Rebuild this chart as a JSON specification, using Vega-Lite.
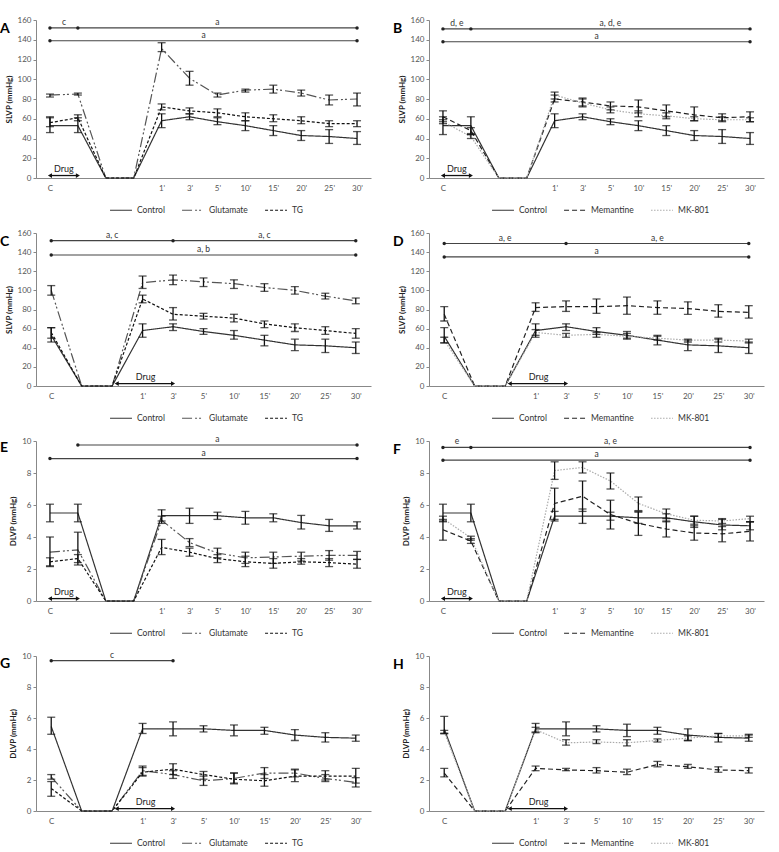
{
"$schema":"https://vega.github.io/schema/vega-lite/v6.json",
"padding":{"left":0,"top":16,"right":5,"bottom":0},
"background":"white",
"config":{"view":{"stroke":null},"font":"Lato",
"axis":{"labelFont":"Lato","labelFontSize":8,"labelColor":"#555","labelOverlap":false,"labelFlush":false,"labelBound":false,"titleFont":"Lato","titleFontSize":8,"titleFontWeight":"bold","titleColor":"#222","domainColor":"#888","tickColor":"#888","tickSize":3,"grid":false},
"legend":{"labelFont":"Lato","labelFontSize":8.5,"labelColor":"#333"},
"title":{"font":"Lato"},"text":{"font":"Lato"}},
"datasets":{
"d":[
{"p":"A","s":"Control","i":1,"v":53,"lo":46,"hi":61},{"p":"A","s":"Control","i":2,"v":53,"lo":46,"hi":61},{"p":"A","s":"Control","i":3,"v":0},{"p":"A","s":"Control","i":4,"v":0},{"p":"A","s":"Control","i":5,"v":58,"lo":51,"hi":65},{"p":"A","s":"Control","i":6,"v":62,"lo":59,"hi":65},{"p":"A","s":"Control","i":7,"v":57,"lo":54,"hi":61},{"p":"A","s":"Control","i":8,"v":53,"lo":48,"hi":58},{"p":"A","s":"Control","i":9,"v":48,"lo":43,"hi":53},{"p":"A","s":"Control","i":10,"v":43,"lo":38,"hi":48},{"p":"A","s":"Control","i":11,"v":42,"lo":35,"hi":49},{"p":"A","s":"Control","i":12,"v":40,"lo":34,"hi":47},
{"p":"A","s":"Glutamate","i":1,"v":84,"lo":82,"hi":85},{"p":"A","s":"Glutamate","i":2,"v":85,"lo":84,"hi":86},{"p":"A","s":"Glutamate","i":3,"v":0},{"p":"A","s":"Glutamate","i":4,"v":0},{"p":"A","s":"Glutamate","i":5,"v":131,"lo":128,"hi":137},{"p":"A","s":"Glutamate","i":6,"v":101,"lo":94,"hi":108},{"p":"A","s":"Glutamate","i":7,"v":84,"lo":82,"hi":86},{"p":"A","s":"Glutamate","i":8,"v":89,"lo":87,"hi":90},{"p":"A","s":"Glutamate","i":9,"v":90,"lo":86,"hi":94},{"p":"A","s":"Glutamate","i":10,"v":86,"lo":83,"hi":89},{"p":"A","s":"Glutamate","i":11,"v":79,"lo":74,"hi":84},{"p":"A","s":"Glutamate","i":12,"v":80,"lo":73,"hi":86},
{"p":"A","s":"TG","i":1,"v":56,"lo":52,"hi":62},{"p":"A","s":"TG","i":2,"v":61,"lo":58,"hi":64},{"p":"A","s":"TG","i":3,"v":0},{"p":"A","s":"TG","i":4,"v":0},{"p":"A","s":"TG","i":5,"v":72,"lo":69,"hi":75},{"p":"A","s":"TG","i":6,"v":68,"lo":65,"hi":71},{"p":"A","s":"TG","i":7,"v":66,"lo":62,"hi":70},{"p":"A","s":"TG","i":8,"v":62,"lo":58,"hi":66},{"p":"A","s":"TG","i":9,"v":60,"lo":57,"hi":64},{"p":"A","s":"TG","i":10,"v":58,"lo":55,"hi":62},{"p":"A","s":"TG","i":11,"v":55,"lo":52,"hi":58},{"p":"A","s":"TG","i":12,"v":55,"lo":52,"hi":58},
{"p":"B","s":"Control","i":1,"v":53,"lo":44,"hi":62},{"p":"B","s":"Control","i":2,"v":53,"lo":44,"hi":62},{"p":"B","s":"Control","i":3,"v":0},{"p":"B","s":"Control","i":4,"v":0},{"p":"B","s":"Control","i":5,"v":58,"lo":51,"hi":65},{"p":"B","s":"Control","i":6,"v":62,"lo":59,"hi":65},{"p":"B","s":"Control","i":7,"v":57,"lo":54,"hi":60},{"p":"B","s":"Control","i":8,"v":53,"lo":48,"hi":58},{"p":"B","s":"Control","i":9,"v":48,"lo":43,"hi":53},{"p":"B","s":"Control","i":10,"v":43,"lo":38,"hi":48},{"p":"B","s":"Control","i":11,"v":42,"lo":35,"hi":49},{"p":"B","s":"Control","i":12,"v":40,"lo":34,"hi":46},
{"p":"B","s":"Memantine","i":1,"v":62,"lo":57,"hi":68},{"p":"B","s":"Memantine","i":2,"v":48,"lo":45,"hi":51},{"p":"B","s":"Memantine","i":3,"v":0},{"p":"B","s":"Memantine","i":4,"v":0},{"p":"B","s":"Memantine","i":5,"v":80,"lo":77,"hi":84},{"p":"B","s":"Memantine","i":6,"v":77,"lo":73,"hi":81},{"p":"B","s":"Memantine","i":7,"v":73,"lo":69,"hi":77},{"p":"B","s":"Memantine","i":8,"v":72,"lo":66,"hi":79},{"p":"B","s":"Memantine","i":9,"v":68,"lo":62,"hi":74},{"p":"B","s":"Memantine","i":10,"v":64,"lo":58,"hi":72},{"p":"B","s":"Memantine","i":11,"v":61,"lo":58,"hi":65},{"p":"B","s":"Memantine","i":12,"v":62,"lo":57,"hi":67},
{"p":"B","s":"MK-801","i":1,"v":57,"lo":55,"hi":59},{"p":"B","s":"MK-801","i":2,"v":42,"lo":40,"hi":44},{"p":"B","s":"MK-801","i":3,"v":0},{"p":"B","s":"MK-801","i":4,"v":0},{"p":"B","s":"MK-801","i":5,"v":84,"lo":80,"hi":87},{"p":"B","s":"MK-801","i":6,"v":76,"lo":72,"hi":80},{"p":"B","s":"MK-801","i":7,"v":69,"lo":66,"hi":72},{"p":"B","s":"MK-801","i":8,"v":65,"lo":62,"hi":68},{"p":"B","s":"MK-801","i":9,"v":63,"lo":60,"hi":66},{"p":"B","s":"MK-801","i":10,"v":60,"lo":58,"hi":62},{"p":"B","s":"MK-801","i":11,"v":59,"lo":57,"hi":62},{"p":"B","s":"MK-801","i":12,"v":59,"lo":57,"hi":61},
{"p":"C","s":"Control","i":1,"v":53,"lo":46,"hi":61},{"p":"C","s":"Control","i":2,"v":0},{"p":"C","s":"Control","i":3,"v":0},{"p":"C","s":"Control","i":4,"v":58,"lo":51,"hi":65},{"p":"C","s":"Control","i":5,"v":62,"lo":58,"hi":65},{"p":"C","s":"Control","i":6,"v":57,"lo":54,"hi":60},{"p":"C","s":"Control","i":7,"v":53,"lo":49,"hi":58},{"p":"C","s":"Control","i":8,"v":48,"lo":42,"hi":53},{"p":"C","s":"Control","i":9,"v":43,"lo":37,"hi":49},{"p":"C","s":"Control","i":10,"v":42,"lo":35,"hi":49},{"p":"C","s":"Control","i":11,"v":40,"lo":34,"hi":46},
{"p":"C","s":"Glutamate","i":1,"v":100,"lo":95,"hi":105},{"p":"C","s":"Glutamate","i":2,"v":0},{"p":"C","s":"Glutamate","i":3,"v":0},{"p":"C","s":"Glutamate","i":4,"v":108,"lo":102,"hi":115},{"p":"C","s":"Glutamate","i":5,"v":111,"lo":106,"hi":116},{"p":"C","s":"Glutamate","i":6,"v":109,"lo":104,"hi":113},{"p":"C","s":"Glutamate","i":7,"v":107,"lo":102,"hi":111},{"p":"C","s":"Glutamate","i":8,"v":103,"lo":99,"hi":107},{"p":"C","s":"Glutamate","i":9,"v":100,"lo":96,"hi":104},{"p":"C","s":"Glutamate","i":10,"v":94,"lo":91,"hi":97},{"p":"C","s":"Glutamate","i":11,"v":89,"lo":86,"hi":92},
{"p":"C","s":"TG","i":1,"v":56,"lo":50,"hi":61},{"p":"C","s":"TG","i":2,"v":0},{"p":"C","s":"TG","i":3,"v":0},{"p":"C","s":"TG","i":4,"v":91,"lo":87,"hi":95},{"p":"C","s":"TG","i":5,"v":75,"lo":69,"hi":82},{"p":"C","s":"TG","i":6,"v":73,"lo":70,"hi":76},{"p":"C","s":"TG","i":7,"v":71,"lo":67,"hi":75},{"p":"C","s":"TG","i":8,"v":65,"lo":61,"hi":68},{"p":"C","s":"TG","i":9,"v":61,"lo":57,"hi":65},{"p":"C","s":"TG","i":10,"v":58,"lo":54,"hi":62},{"p":"C","s":"TG","i":11,"v":55,"lo":50,"hi":60},
{"p":"D","s":"Control","i":1,"v":52,"lo":45,"hi":61},{"p":"D","s":"Control","i":2,"v":0},{"p":"D","s":"Control","i":3,"v":0},{"p":"D","s":"Control","i":4,"v":58,"lo":51,"hi":65},{"p":"D","s":"Control","i":5,"v":62,"lo":58,"hi":65},{"p":"D","s":"Control","i":6,"v":57,"lo":54,"hi":61},{"p":"D","s":"Control","i":7,"v":53,"lo":49,"hi":57},{"p":"D","s":"Control","i":8,"v":48,"lo":43,"hi":53},{"p":"D","s":"Control","i":9,"v":43,"lo":37,"hi":48},{"p":"D","s":"Control","i":10,"v":42,"lo":35,"hi":49},{"p":"D","s":"Control","i":11,"v":40,"lo":34,"hi":46},
{"p":"D","s":"Memantine","i":1,"v":75,"lo":68,"hi":83},{"p":"D","s":"Memantine","i":2,"v":0},{"p":"D","s":"Memantine","i":3,"v":0},{"p":"D","s":"Memantine","i":4,"v":82,"lo":78,"hi":87},{"p":"D","s":"Memantine","i":5,"v":83,"lo":78,"hi":89},{"p":"D","s":"Memantine","i":6,"v":83,"lo":76,"hi":91},{"p":"D","s":"Memantine","i":7,"v":84,"lo":75,"hi":93},{"p":"D","s":"Memantine","i":8,"v":82,"lo":75,"hi":89},{"p":"D","s":"Memantine","i":9,"v":81,"lo":75,"hi":88},{"p":"D","s":"Memantine","i":10,"v":78,"lo":72,"hi":85},{"p":"D","s":"Memantine","i":11,"v":77,"lo":71,"hi":84},
{"p":"D","s":"MK-801","i":1,"v":48,"lo":45,"hi":51},{"p":"D","s":"MK-801","i":2,"v":0},{"p":"D","s":"MK-801","i":3,"v":0},{"p":"D","s":"MK-801","i":4,"v":56,"lo":53,"hi":59},{"p":"D","s":"MK-801","i":5,"v":53,"lo":51,"hi":55},{"p":"D","s":"MK-801","i":6,"v":54,"lo":51,"hi":56},{"p":"D","s":"MK-801","i":7,"v":52,"lo":50,"hi":55},{"p":"D","s":"MK-801","i":8,"v":50,"lo":48,"hi":52},{"p":"D","s":"MK-801","i":9,"v":48,"lo":46,"hi":49},{"p":"D","s":"MK-801","i":10,"v":48,"lo":46,"hi":50},{"p":"D","s":"MK-801","i":11,"v":47,"lo":45,"hi":49},
{"p":"E","s":"Control","i":1,"v":5.5,"lo":4.95,"hi":6.05},{"p":"E","s":"Control","i":2,"v":5.5,"lo":4.95,"hi":6.05},{"p":"E","s":"Control","i":3,"v":0},{"p":"E","s":"Control","i":4,"v":0},{"p":"E","s":"Control","i":5,"v":5.33,"lo":5.0,"hi":5.7},{"p":"E","s":"Control","i":6,"v":5.33,"lo":4.85,"hi":5.8},{"p":"E","s":"Control","i":7,"v":5.33,"lo":5.1,"hi":5.55},{"p":"E","s":"Control","i":8,"v":5.2,"lo":4.8,"hi":5.6},{"p":"E","s":"Control","i":9,"v":5.2,"lo":4.95,"hi":5.45},{"p":"E","s":"Control","i":10,"v":4.9,"lo":4.5,"hi":5.35},{"p":"E","s":"Control","i":11,"v":4.7,"lo":4.35,"hi":5.1},{"p":"E","s":"Control","i":12,"v":4.7,"lo":4.5,"hi":4.95},
{"p":"E","s":"Glutamate","i":1,"v":3.05,"lo":2.15,"hi":4.0},{"p":"E","s":"Glutamate","i":2,"v":3.2,"lo":2.25,"hi":4.3},{"p":"E","s":"Glutamate","i":3,"v":0},{"p":"E","s":"Glutamate","i":4,"v":0},{"p":"E","s":"Glutamate","i":5,"v":5.05,"lo":4.85,"hi":5.3},{"p":"E","s":"Glutamate","i":6,"v":3.65,"lo":3.4,"hi":3.9},{"p":"E","s":"Glutamate","i":7,"v":3.0,"lo":2.7,"hi":3.3},{"p":"E","s":"Glutamate","i":8,"v":2.7,"lo":2.35,"hi":3.05},{"p":"E","s":"Glutamate","i":9,"v":2.75,"lo":2.35,"hi":3.05},{"p":"E","s":"Glutamate","i":10,"v":2.8,"lo":2.5,"hi":3.05},{"p":"E","s":"Glutamate","i":11,"v":2.85,"lo":2.55,"hi":3.15},{"p":"E","s":"Glutamate","i":12,"v":2.85,"lo":2.6,"hi":3.1},
{"p":"E","s":"TG","i":1,"v":2.45,"lo":2.2,"hi":2.7},{"p":"E","s":"TG","i":2,"v":2.65,"lo":2.4,"hi":2.9},{"p":"E","s":"TG","i":3,"v":0},{"p":"E","s":"TG","i":4,"v":0},{"p":"E","s":"TG","i":5,"v":3.35,"lo":2.9,"hi":3.85},{"p":"E","s":"TG","i":6,"v":3.05,"lo":2.8,"hi":3.3},{"p":"E","s":"TG","i":7,"v":2.65,"lo":2.4,"hi":2.9},{"p":"E","s":"TG","i":8,"v":2.45,"lo":2.15,"hi":2.8},{"p":"E","s":"TG","i":9,"v":2.35,"lo":2.05,"hi":2.65},{"p":"E","s":"TG","i":10,"v":2.45,"lo":2.3,"hi":2.65},{"p":"E","s":"TG","i":11,"v":2.4,"lo":2.15,"hi":2.65},{"p":"E","s":"TG","i":12,"v":2.3,"lo":2.05,"hi":2.6},
{"p":"F","s":"Control","i":1,"v":5.5,"lo":4.95,"hi":6.05},{"p":"F","s":"Control","i":2,"v":5.5,"lo":4.95,"hi":6.05},{"p":"F","s":"Control","i":3,"v":0},{"p":"F","s":"Control","i":4,"v":0},{"p":"F","s":"Control","i":5,"v":5.3,"lo":5.0,"hi":5.6},{"p":"F","s":"Control","i":6,"v":5.3,"lo":4.85,"hi":5.75},{"p":"F","s":"Control","i":7,"v":5.3,"lo":5.05,"hi":5.55},{"p":"F","s":"Control","i":8,"v":5.2,"lo":4.85,"hi":5.55},{"p":"F","s":"Control","i":9,"v":5.2,"lo":4.95,"hi":5.45},{"p":"F","s":"Control","i":10,"v":4.95,"lo":4.6,"hi":5.3},{"p":"F","s":"Control","i":11,"v":4.75,"lo":4.45,"hi":5.1},{"p":"F","s":"Control","i":12,"v":4.7,"lo":4.45,"hi":4.95},
{"p":"F","s":"Memantine","i":1,"v":4.45,"lo":3.8,"hi":5.1},{"p":"F","s":"Memantine","i":2,"v":3.75,"lo":3.6,"hi":3.9},{"p":"F","s":"Memantine","i":3,"v":0},{"p":"F","s":"Memantine","i":4,"v":0},{"p":"F","s":"Memantine","i":5,"v":6.1,"lo":5.1,"hi":7.05},{"p":"F","s":"Memantine","i":6,"v":6.55,"lo":5.6,"hi":7.5},{"p":"F","s":"Memantine","i":7,"v":5.4,"lo":4.5,"hi":6.3},{"p":"F","s":"Memantine","i":8,"v":4.85,"lo":4.1,"hi":5.6},{"p":"F","s":"Memantine","i":9,"v":4.5,"lo":4.0,"hi":5.0},{"p":"F","s":"Memantine","i":10,"v":4.25,"lo":3.8,"hi":4.7},{"p":"F","s":"Memantine","i":11,"v":4.2,"lo":3.7,"hi":4.65},{"p":"F","s":"Memantine","i":12,"v":4.35,"lo":3.75,"hi":4.95},
{"p":"F","s":"MK-801","i":1,"v":5.15,"lo":5.0,"hi":5.3},{"p":"F","s":"MK-801","i":2,"v":3.95,"lo":3.8,"hi":4.05},{"p":"F","s":"MK-801","i":3,"v":0},{"p":"F","s":"MK-801","i":4,"v":0},{"p":"F","s":"MK-801","i":5,"v":8.15,"lo":7.6,"hi":8.7},{"p":"F","s":"MK-801","i":6,"v":8.35,"lo":8.0,"hi":8.7},{"p":"F","s":"MK-801","i":7,"v":7.5,"lo":7.0,"hi":8.0},{"p":"F","s":"MK-801","i":8,"v":6.1,"lo":5.65,"hi":6.5},{"p":"F","s":"MK-801","i":9,"v":5.45,"lo":5.15,"hi":5.75},{"p":"F","s":"MK-801","i":10,"v":5.05,"lo":4.8,"hi":5.3},{"p":"F","s":"MK-801","i":11,"v":5.0,"lo":4.85,"hi":5.15},{"p":"F","s":"MK-801","i":12,"v":5.15,"lo":4.95,"hi":5.3},
{"p":"G","s":"Control","i":1,"v":5.45,"lo":4.95,"hi":6.05},{"p":"G","s":"Control","i":2,"v":0},{"p":"G","s":"Control","i":3,"v":0},{"p":"G","s":"Control","i":4,"v":5.3,"lo":5.0,"hi":5.65},{"p":"G","s":"Control","i":5,"v":5.3,"lo":4.85,"hi":5.75},{"p":"G","s":"Control","i":6,"v":5.3,"lo":5.1,"hi":5.5},{"p":"G","s":"Control","i":7,"v":5.2,"lo":4.85,"hi":5.55},{"p":"G","s":"Control","i":8,"v":5.2,"lo":4.95,"hi":5.4},{"p":"G","s":"Control","i":9,"v":4.9,"lo":4.55,"hi":5.25},{"p":"G","s":"Control","i":10,"v":4.75,"lo":4.45,"hi":5.05},{"p":"G","s":"Control","i":11,"v":4.7,"lo":4.5,"hi":4.9},
{"p":"G","s":"Glutamate","i":1,"v":2.2,"lo":2.05,"hi":2.35},{"p":"G","s":"Glutamate","i":2,"v":0},{"p":"G","s":"Glutamate","i":3,"v":0},{"p":"G","s":"Glutamate","i":4,"v":2.6,"lo":2.3,"hi":2.9},{"p":"G","s":"Glutamate","i":5,"v":2.35,"lo":2.1,"hi":2.6},{"p":"G","s":"Glutamate","i":6,"v":1.95,"lo":1.65,"hi":2.25},{"p":"G","s":"Glutamate","i":7,"v":2.1,"lo":1.8,"hi":2.45},{"p":"G","s":"Glutamate","i":8,"v":2.45,"lo":2.1,"hi":2.8},{"p":"G","s":"Glutamate","i":9,"v":2.45,"lo":2.2,"hi":2.7},{"p":"G","s":"Glutamate","i":10,"v":2.1,"lo":1.9,"hi":2.35},{"p":"G","s":"Glutamate","i":11,"v":1.85,"lo":1.55,"hi":2.15},
{"p":"G","s":"TG","i":1,"v":1.45,"lo":0.95,"hi":1.9},{"p":"G","s":"TG","i":2,"v":0},{"p":"G","s":"TG","i":3,"v":0},{"p":"G","s":"TG","i":4,"v":2.5,"lo":2.25,"hi":2.8},{"p":"G","s":"TG","i":5,"v":2.7,"lo":2.35,"hi":3.05},{"p":"G","s":"TG","i":6,"v":2.35,"lo":2.05,"hi":2.55},{"p":"G","s":"TG","i":7,"v":2.05,"lo":1.75,"hi":2.45},{"p":"G","s":"TG","i":8,"v":1.95,"lo":1.6,"hi":2.35},{"p":"G","s":"TG","i":9,"v":2.25,"lo":1.9,"hi":2.65},{"p":"G","s":"TG","i":10,"v":2.25,"lo":2.0,"hi":2.6},{"p":"G","s":"TG","i":11,"v":2.25,"lo":1.8,"hi":2.75},
{"p":"H","s":"Control","i":1,"v":5.3,"lo":5.0,"hi":6.1},{"p":"H","s":"Control","i":2,"v":0},{"p":"H","s":"Control","i":3,"v":0},{"p":"H","s":"Control","i":4,"v":5.3,"lo":5.05,"hi":5.65},{"p":"H","s":"Control","i":5,"v":5.3,"lo":4.85,"hi":5.75},{"p":"H","s":"Control","i":6,"v":5.3,"lo":5.1,"hi":5.5},{"p":"H","s":"Control","i":7,"v":5.2,"lo":4.8,"hi":5.6},{"p":"H","s":"Control","i":8,"v":5.2,"lo":4.95,"hi":5.4},{"p":"H","s":"Control","i":9,"v":4.9,"lo":4.55,"hi":5.3},{"p":"H","s":"Control","i":10,"v":4.75,"lo":4.45,"hi":5.0},{"p":"H","s":"Control","i":11,"v":4.7,"lo":4.5,"hi":4.9},
{"p":"H","s":"Memantine","i":1,"v":2.45,"lo":2.2,"hi":2.75},{"p":"H","s":"Memantine","i":2,"v":0},{"p":"H","s":"Memantine","i":3,"v":0},{"p":"H","s":"Memantine","i":4,"v":2.75,"lo":2.6,"hi":2.9},{"p":"H","s":"Memantine","i":5,"v":2.65,"lo":2.6,"hi":2.75},{"p":"H","s":"Memantine","i":6,"v":2.6,"lo":2.45,"hi":2.8},{"p":"H","s":"Memantine","i":7,"v":2.5,"lo":2.35,"hi":2.7},{"p":"H","s":"Memantine","i":8,"v":3.0,"lo":2.85,"hi":3.2},{"p":"H","s":"Memantine","i":9,"v":2.85,"lo":2.75,"hi":3.0},{"p":"H","s":"Memantine","i":10,"v":2.65,"lo":2.5,"hi":2.85},{"p":"H","s":"Memantine","i":11,"v":2.6,"lo":2.45,"hi":2.8},
{"p":"H","s":"MK-801","i":1,"v":5.1,"lo":5.0,"hi":5.2},{"p":"H","s":"MK-801","i":2,"v":0},{"p":"H","s":"MK-801","i":3,"v":0},{"p":"H","s":"MK-801","i":4,"v":5.25,"lo":5.1,"hi":5.4},{"p":"H","s":"MK-801","i":5,"v":4.4,"lo":4.25,"hi":4.6},{"p":"H","s":"MK-801","i":6,"v":4.45,"lo":4.35,"hi":4.6},{"p":"H","s":"MK-801","i":7,"v":4.4,"lo":4.2,"hi":4.6},{"p":"H","s":"MK-801","i":8,"v":4.55,"lo":4.45,"hi":4.65},{"p":"H","s":"MK-801","i":9,"v":4.7,"lo":4.55,"hi":4.85},{"p":"H","s":"MK-801","i":10,"v":4.85,"lo":4.75,"hi":5.0},{"p":"H","s":"MK-801","i":11,"v":4.85,"lo":4.75,"hi":4.95}
],
"ann":[{"p":"A","y":152,"a":1,"b":12},{"p":"A","y":139,"a":1,"b":12},{"p":"B","y":151,"a":1,"b":12},{"p":"B","y":138,"a":1,"b":12},{"p":"C","y":152,"a":1,"b":11},{"p":"C","y":137,"a":1,"b":11},{"p":"D","y":149,"a":1,"b":11},{"p":"D","y":135,"a":1,"b":11},{"p":"E","y":9.75,"a":2,"b":12},{"p":"E","y":8.9,"a":1,"b":12},{"p":"F","y":9.6,"a":1,"b":12},{"p":"F","y":8.8,"a":1,"b":12},{"p":"G","y":9.7,"a":1,"b":5}],
"dots":[{"p":"A","x":1,"y":152},{"p":"A","x":2,"y":152},{"p":"A","x":12,"y":152},{"p":"A","x":1,"y":139},{"p":"A","x":12,"y":139},
{"p":"B","x":1,"y":151},{"p":"B","x":2,"y":151},{"p":"B","x":12,"y":151},{"p":"B","x":1,"y":138},{"p":"B","x":12,"y":138},
{"p":"C","x":1,"y":152},{"p":"C","x":5,"y":152},{"p":"C","x":11,"y":152},{"p":"C","x":1,"y":137},{"p":"C","x":11,"y":137},
{"p":"D","x":1,"y":149},{"p":"D","x":5,"y":149},{"p":"D","x":11,"y":149},{"p":"D","x":1,"y":135},{"p":"D","x":11,"y":135},
{"p":"E","x":2,"y":9.75},{"p":"E","x":12,"y":9.75},{"p":"E","x":1,"y":8.9},{"p":"E","x":12,"y":8.9},
{"p":"F","x":1,"y":9.6},{"p":"F","x":2,"y":9.6},{"p":"F","x":12,"y":9.6},{"p":"F","x":1,"y":8.8},{"p":"F","x":12,"y":8.8},
{"p":"G","x":1,"y":9.7},{"p":"G","x":5,"y":9.7}],
"lab":[{"p":"A","x":1.5,"y":152,"t":"c"},{"p":"A","x":7,"y":152,"t":"a"},{"p":"A","x":6.5,"y":139,"t":"a"},
{"p":"B","x":1.5,"y":151,"t":"d, e"},{"p":"B","x":7,"y":151,"t":"a, d, e"},{"p":"B","x":6.5,"y":138,"t":"a"},
{"p":"C","x":3,"y":152,"t":"a, c"},{"p":"C","x":8,"y":152,"t":"a, c"},{"p":"C","x":6,"y":137,"t":"a, b"},
{"p":"D","x":3,"y":149,"t":"a, e"},{"p":"D","x":8,"y":149,"t":"a, e"},{"p":"D","x":6,"y":135,"t":"a"},
{"p":"E","x":7,"y":9.75,"t":"a"},{"p":"E","x":6.5,"y":8.9,"t":"a"},
{"p":"F","x":1.5,"y":9.6,"t":"e"},{"p":"F","x":7,"y":9.6,"t":"a, e"},{"p":"F","x":6.5,"y":8.8,"t":"a"},
{"p":"G","x":3,"y":9.7,"t":"c"}],
"drug":[{"p":"A","a":1,"b":2,"m":1.5,"y":2.5},{"p":"B","a":1,"b":2,"m":1.5,"y":2.5},{"p":"C","a":3.15,"b":5,"m":4.1,"y":2.5},{"p":"D","a":3.15,"b":5,"m":4.1,"y":2.5},{"p":"E","a":1,"b":2,"m":1.5,"y":0.15},{"p":"F","a":1,"b":2,"m":1.5,"y":0.15},{"p":"G","a":3.15,"b":5,"m":4.1,"y":0.15},{"p":"H","a":3.15,"b":5,"m":4.1,"y":0.15}]
},
"columns":2,
"bounds":"flush",
"spacing":{"row":55,"column":58},
"resolve":{"scale":{"x":"independent","y":"independent","color":"independent","strokeDash":"independent","shape":"independent"},"legend":{"color":"independent","strokeDash":"independent"},"axis":{"x":"independent","y":"independent"}},
"concat":[
{"width":335,"height":158,"title":{"text":"A","anchor":"start","frame":"group","fontSize":14,"fontWeight":"bold","baseline":"alphabetic","dx":-36,"dy":35},
"layer":[
{"data":{"name":"d"},"transform":[{"filter":"datum.p=='A'"}],"mark":{"type":"line","strokeWidth":1.2},
"encoding":{"x":{"field":"i","type":"quantitative","title":null,"scale":{"domain":[0.5,12.5],"nice":false,"zero":false},"axis":{"values":[1,2,3,4,5,6,7,8,9,10,11,12],"tickCount":40,"labelExpr":"[\"C\",\"\",\"\",\"\",\"1'\",\"3'\",\"5'\",\"10'\",\"15'\",\"20'\",\"25'\",\"30'\"][datum.value-1]","ticks":false,"labelPadding":6}},
"y":{"field":"v","type":"quantitative","title":"SLVP (mmHg)","scale":{"domain":[0,160],"nice":false},"axis":{"values":[0,20,40,60,80,100,120,140,160],"tickCount":40,"format":"d"}},
"color":{"field":"s","type":"nominal","scale":{"domain":["Control","Glutamate","TG"],"range":["#333333","#555555","#111111"]},"legend":{"orient":"none","legendX":73,"legendY":178,"direction":"horizontal","title":null,"symbolType":"stroke","symbolSize":480,"symbolStrokeWidth":1.2,"columnPadding":14}},
"strokeDash":{"field":"s","type":"nominal","scale":{"domain":["Control","Glutamate","TG"],"range":[[1,0],[10,3,2,2,2,3],[3,2]]},"legend":{"orient":"none","legendX":73,"legendY":178,"direction":"horizontal","title":null,"symbolType":"stroke","symbolSize":480,"symbolStrokeWidth":1.2,"columnPadding":14}}}},
{"data":{"name":"d"},"transform":[{"filter":"datum.p=='A' && isValid(datum.lo)"}],"mark":{"type":"rule","color":"#111","strokeWidth":1.3},"encoding":{"x":{"field":"i","type":"quantitative","title":null},"y":{"field":"lo","type":"quantitative","title":"SLVP (mmHg)"},"y2":{"field":"hi"}}},
{"data":{"name":"d"},"transform":[{"filter":"datum.p=='A' && isValid(datum.lo)"},{"fold":["lo","hi"],"as":["k","e"]}],"mark":{"type":"tick","orient":"horizontal","color":"#111","size":8,"thickness":1.3},"encoding":{"x":{"field":"i","type":"quantitative","title":null},"y":{"field":"e","type":"quantitative","title":"SLVP (mmHg)"}}},
{"data":{"name":"ann"},"transform":[{"filter":"datum.p=='A'"}],"mark":{"type":"rule","color":"#444","strokeWidth":1.2},"encoding":{"x":{"field":"a","type":"quantitative","title":null},"x2":{"field":"b"},"y":{"field":"y","type":"quantitative","title":"SLVP (mmHg)"}}},
{"data":{"name":"dots"},"transform":[{"filter":"datum.p=='A'"}],"mark":{"type":"point","filled":true,"size":12,"color":"#222","opacity":1},"encoding":{"x":{"field":"x","type":"quantitative","title":null},"y":{"field":"y","type":"quantitative","title":"SLVP (mmHg)"}}},
{"data":{"name":"lab"},"transform":[{"filter":"datum.p=='A'"}],"mark":{"type":"text","fontSize":8.5,"dy":-6,"color":"#333"},"encoding":{"x":{"field":"x","type":"quantitative","title":null},"y":{"field":"y","type":"quantitative","title":"SLVP (mmHg)"},"text":{"field":"t"}}},
{"data":{"name":"drug"},"transform":[{"filter":"datum.p=='A'"}],"mark":{"type":"rule","color":"#111","strokeWidth":1.3},"encoding":{"x":{"field":"a","type":"quantitative","title":null},"x2":{"field":"b"},"y":{"field":"y","type":"quantitative","title":"SLVP (mmHg)"}}},
{"data":{"name":"drug"},"transform":[{"filter":"datum.p=='A'"},{"fold":["a","b"],"as":["k","xe"]}],"mark":{"type":"point","filled":true,"size":22,"color":"#111","opacity":1},"encoding":{"x":{"field":"xe","type":"quantitative","title":null},"y":{"field":"y","type":"quantitative","title":"SLVP (mmHg)"},"shape":{"field":"k","type":"nominal","scale":{"domain":["a","b"],"range":["triangle-left","triangle-right"]},"legend":null}}},
{"data":{"name":"drug"},"transform":[{"filter":"datum.p=='A'"}],"mark":{"type":"text","fontSize":9,"dy":-7,"color":"#222"},"encoding":{"x":{"field":"m","type":"quantitative","title":null},"y":{"field":"y","type":"quantitative","title":"SLVP (mmHg)"},"text":{"value":"Drug"}}}
]},
{"width":335,"height":158,"title":{"text":"B","anchor":"start","frame":"group","fontSize":14,"fontWeight":"bold","baseline":"alphabetic","dx":-36,"dy":35},
"layer":[
{"data":{"name":"d"},"transform":[{"filter":"datum.p=='B'"}],"mark":{"type":"line","strokeWidth":1.2},
"encoding":{"x":{"field":"i","type":"quantitative","title":null,"scale":{"domain":[0.5,12.5],"nice":false,"zero":false},"axis":{"values":[1,2,3,4,5,6,7,8,9,10,11,12],"tickCount":40,"labelExpr":"[\"C\",\"\",\"\",\"\",\"1'\",\"3'\",\"5'\",\"10'\",\"15'\",\"20'\",\"25'\",\"30'\"][datum.value-1]","ticks":false,"labelPadding":6}},
"y":{"field":"v","type":"quantitative","title":"SLVP (mmHg)","scale":{"domain":[0,160],"nice":false},"axis":{"values":[0,20,40,60,80,100,120,140,160],"tickCount":40,"format":"d"}},
"color":{"field":"s","type":"nominal","scale":{"domain":["Control","Memantine","MK-801"],"range":["#333333","#222222","#aaaaaa"]},"legend":{"orient":"none","legendX":62,"legendY":178,"direction":"horizontal","title":null,"symbolType":"stroke","symbolSize":480,"symbolStrokeWidth":1.2,"columnPadding":14}},
"strokeDash":{"field":"s","type":"nominal","scale":{"domain":["Control","Memantine","MK-801"],"range":[[1,0],[5,3],[1.5,1.5]]},"legend":{"orient":"none","legendX":62,"legendY":178,"direction":"horizontal","title":null,"symbolType":"stroke","symbolSize":480,"symbolStrokeWidth":1.2,"columnPadding":14}}}},
{"data":{"name":"d"},"transform":[{"filter":"datum.p=='B' && isValid(datum.lo)"}],"mark":{"type":"rule","color":"#111","strokeWidth":1.3},"encoding":{"x":{"field":"i","type":"quantitative","title":null},"y":{"field":"lo","type":"quantitative","title":"SLVP (mmHg)"},"y2":{"field":"hi"}}},
{"data":{"name":"d"},"transform":[{"filter":"datum.p=='B' && isValid(datum.lo)"},{"fold":["lo","hi"],"as":["k","e"]}],"mark":{"type":"tick","orient":"horizontal","color":"#111","size":8,"thickness":1.3},"encoding":{"x":{"field":"i","type":"quantitative","title":null},"y":{"field":"e","type":"quantitative","title":"SLVP (mmHg)"}}},
{"data":{"name":"ann"},"transform":[{"filter":"datum.p=='B'"}],"mark":{"type":"rule","color":"#444","strokeWidth":1.2},"encoding":{"x":{"field":"a","type":"quantitative","title":null},"x2":{"field":"b"},"y":{"field":"y","type":"quantitative","title":"SLVP (mmHg)"}}},
{"data":{"name":"dots"},"transform":[{"filter":"datum.p=='B'"}],"mark":{"type":"point","filled":true,"size":12,"color":"#222","opacity":1},"encoding":{"x":{"field":"x","type":"quantitative","title":null},"y":{"field":"y","type":"quantitative","title":"SLVP (mmHg)"}}},
{"data":{"name":"lab"},"transform":[{"filter":"datum.p=='B'"}],"mark":{"type":"text","fontSize":8.5,"dy":-6,"color":"#333"},"encoding":{"x":{"field":"x","type":"quantitative","title":null},"y":{"field":"y","type":"quantitative","title":"SLVP (mmHg)"},"text":{"field":"t"}}},
{"data":{"name":"drug"},"transform":[{"filter":"datum.p=='B'"}],"mark":{"type":"rule","color":"#111","strokeWidth":1.3},"encoding":{"x":{"field":"a","type":"quantitative","title":null},"x2":{"field":"b"},"y":{"field":"y","type":"quantitative","title":"SLVP (mmHg)"}}},
{"data":{"name":"drug"},"transform":[{"filter":"datum.p=='B'"},{"fold":["a","b"],"as":["k","xe"]}],"mark":{"type":"point","filled":true,"size":22,"color":"#111","opacity":1},"encoding":{"x":{"field":"xe","type":"quantitative","title":null},"y":{"field":"y","type":"quantitative","title":"SLVP (mmHg)"},"shape":{"field":"k","type":"nominal","scale":{"domain":["a","b"],"range":["triangle-left","triangle-right"]},"legend":null}}},
{"data":{"name":"drug"},"transform":[{"filter":"datum.p=='B'"}],"mark":{"type":"text","fontSize":9,"dy":-7,"color":"#222"},"encoding":{"x":{"field":"m","type":"quantitative","title":null},"y":{"field":"y","type":"quantitative","title":"SLVP (mmHg)"},"text":{"value":"Drug"}}}
]},
{"width":335,"height":153,"title":{"text":"C","anchor":"start","frame":"group","fontSize":14,"fontWeight":"bold","baseline":"alphabetic","dx":-36,"dy":35},
"layer":[
{"data":{"name":"d"},"transform":[{"filter":"datum.p=='C'"}],"mark":{"type":"line","strokeWidth":1.2},
"encoding":{"x":{"field":"i","type":"quantitative","title":null,"scale":{"domain":[0.5,11.5],"nice":false,"zero":false},"axis":{"values":[1,2,3,4,5,6,7,8,9,10,11],"tickCount":40,"labelExpr":"[\"C\",\"\",\"\",\"1'\",\"3'\",\"5'\",\"10'\",\"15'\",\"20'\",\"25'\",\"30'\"][datum.value-1]","ticks":false,"labelPadding":6}},
"y":{"field":"v","type":"quantitative","title":"SLVP (mmHg)","scale":{"domain":[0,160],"nice":false},"axis":{"values":[0,20,40,60,80,100,120,140,160],"tickCount":40,"format":"d"}},
"color":{"field":"s","type":"nominal","scale":{"domain":["Control","Glutamate","TG"],"range":["#333333","#555555","#111111"]},"legend":{"orient":"none","legendX":73,"legendY":173,"direction":"horizontal","title":null,"symbolType":"stroke","symbolSize":480,"symbolStrokeWidth":1.2,"columnPadding":14}},
"strokeDash":{"field":"s","type":"nominal","scale":{"domain":["Control","Glutamate","TG"],"range":[[1,0],[10,3,2,2,2,3],[3,2]]},"legend":{"orient":"none","legendX":73,"legendY":173,"direction":"horizontal","title":null,"symbolType":"stroke","symbolSize":480,"symbolStrokeWidth":1.2,"columnPadding":14}}}},
{"data":{"name":"d"},"transform":[{"filter":"datum.p=='C' && isValid(datum.lo)"}],"mark":{"type":"rule","color":"#111","strokeWidth":1.3},"encoding":{"x":{"field":"i","type":"quantitative","title":null},"y":{"field":"lo","type":"quantitative","title":"SLVP (mmHg)"},"y2":{"field":"hi"}}},
{"data":{"name":"d"},"transform":[{"filter":"datum.p=='C' && isValid(datum.lo)"},{"fold":["lo","hi"],"as":["k","e"]}],"mark":{"type":"tick","orient":"horizontal","color":"#111","size":8,"thickness":1.3},"encoding":{"x":{"field":"i","type":"quantitative","title":null},"y":{"field":"e","type":"quantitative","title":"SLVP (mmHg)"}}},
{"data":{"name":"ann"},"transform":[{"filter":"datum.p=='C'"}],"mark":{"type":"rule","color":"#444","strokeWidth":1.2},"encoding":{"x":{"field":"a","type":"quantitative","title":null},"x2":{"field":"b"},"y":{"field":"y","type":"quantitative","title":"SLVP (mmHg)"}}},
{"data":{"name":"dots"},"transform":[{"filter":"datum.p=='C'"}],"mark":{"type":"point","filled":true,"size":12,"color":"#222","opacity":1},"encoding":{"x":{"field":"x","type":"quantitative","title":null},"y":{"field":"y","type":"quantitative","title":"SLVP (mmHg)"}}},
{"data":{"name":"lab"},"transform":[{"filter":"datum.p=='C'"}],"mark":{"type":"text","fontSize":8.5,"dy":-6,"color":"#333"},"encoding":{"x":{"field":"x","type":"quantitative","title":null},"y":{"field":"y","type":"quantitative","title":"SLVP (mmHg)"},"text":{"field":"t"}}},
{"data":{"name":"drug"},"transform":[{"filter":"datum.p=='C'"}],"mark":{"type":"rule","color":"#111","strokeWidth":1.3},"encoding":{"x":{"field":"a","type":"quantitative","title":null},"x2":{"field":"b"},"y":{"field":"y","type":"quantitative","title":"SLVP (mmHg)"}}},
{"data":{"name":"drug"},"transform":[{"filter":"datum.p=='C'"},{"fold":["a","b"],"as":["k","xe"]}],"mark":{"type":"point","filled":true,"size":22,"color":"#111","opacity":1},"encoding":{"x":{"field":"xe","type":"quantitative","title":null},"y":{"field":"y","type":"quantitative","title":"SLVP (mmHg)"},"shape":{"field":"k","type":"nominal","scale":{"domain":["a","b"],"range":["triangle-left","triangle-right"]},"legend":null}}},
{"data":{"name":"drug"},"transform":[{"filter":"datum.p=='C'"}],"mark":{"type":"text","fontSize":9,"dy":-7,"color":"#222"},"encoding":{"x":{"field":"m","type":"quantitative","title":null},"y":{"field":"y","type":"quantitative","title":"SLVP (mmHg)"},"text":{"value":"Drug"}}}
]},
{"width":335,"height":153,"title":{"text":"D","anchor":"start","frame":"group","fontSize":14,"fontWeight":"bold","baseline":"alphabetic","dx":-36,"dy":35},
"layer":[
{"data":{"name":"d"},"transform":[{"filter":"datum.p=='D'"}],"mark":{"type":"line","strokeWidth":1.2},
"encoding":{"x":{"field":"i","type":"quantitative","title":null,"scale":{"domain":[0.5,11.5],"nice":false,"zero":false},"axis":{"values":[1,2,3,4,5,6,7,8,9,10,11],"tickCount":40,"labelExpr":"[\"C\",\"\",\"\",\"1'\",\"3'\",\"5'\",\"10'\",\"15'\",\"20'\",\"25'\",\"30'\"][datum.value-1]","ticks":false,"labelPadding":6}},
"y":{"field":"v","type":"quantitative","title":"SLVP (mmHg)","scale":{"domain":[0,160],"nice":false},"axis":{"values":[0,20,40,60,80,100,120,140,160],"tickCount":40,"format":"d"}},
"color":{"field":"s","type":"nominal","scale":{"domain":["Control","Memantine","MK-801"],"range":["#333333","#222222","#aaaaaa"]},"legend":{"orient":"none","legendX":62,"legendY":173,"direction":"horizontal","title":null,"symbolType":"stroke","symbolSize":480,"symbolStrokeWidth":1.2,"columnPadding":14}},
"strokeDash":{"field":"s","type":"nominal","scale":{"domain":["Control","Memantine","MK-801"],"range":[[1,0],[5,3],[1.5,1.5]]},"legend":{"orient":"none","legendX":62,"legendY":173,"direction":"horizontal","title":null,"symbolType":"stroke","symbolSize":480,"symbolStrokeWidth":1.2,"columnPadding":14}}}},
{"data":{"name":"d"},"transform":[{"filter":"datum.p=='D' && isValid(datum.lo)"}],"mark":{"type":"rule","color":"#111","strokeWidth":1.3},"encoding":{"x":{"field":"i","type":"quantitative","title":null},"y":{"field":"lo","type":"quantitative","title":"SLVP (mmHg)"},"y2":{"field":"hi"}}},
{"data":{"name":"d"},"transform":[{"filter":"datum.p=='D' && isValid(datum.lo)"},{"fold":["lo","hi"],"as":["k","e"]}],"mark":{"type":"tick","orient":"horizontal","color":"#111","size":8,"thickness":1.3},"encoding":{"x":{"field":"i","type":"quantitative","title":null},"y":{"field":"e","type":"quantitative","title":"SLVP (mmHg)"}}},
{"data":{"name":"ann"},"transform":[{"filter":"datum.p=='D'"}],"mark":{"type":"rule","color":"#444","strokeWidth":1.2},"encoding":{"x":{"field":"a","type":"quantitative","title":null},"x2":{"field":"b"},"y":{"field":"y","type":"quantitative","title":"SLVP (mmHg)"}}},
{"data":{"name":"dots"},"transform":[{"filter":"datum.p=='D'"}],"mark":{"type":"point","filled":true,"size":12,"color":"#222","opacity":1},"encoding":{"x":{"field":"x","type":"quantitative","title":null},"y":{"field":"y","type":"quantitative","title":"SLVP (mmHg)"}}},
{"data":{"name":"lab"},"transform":[{"filter":"datum.p=='D'"}],"mark":{"type":"text","fontSize":8.5,"dy":-6,"color":"#333"},"encoding":{"x":{"field":"x","type":"quantitative","title":null},"y":{"field":"y","type":"quantitative","title":"SLVP (mmHg)"},"text":{"field":"t"}}},
{"data":{"name":"drug"},"transform":[{"filter":"datum.p=='D'"}],"mark":{"type":"rule","color":"#111","strokeWidth":1.3},"encoding":{"x":{"field":"a","type":"quantitative","title":null},"x2":{"field":"b"},"y":{"field":"y","type":"quantitative","title":"SLVP (mmHg)"}}},
{"data":{"name":"drug"},"transform":[{"filter":"datum.p=='D'"},{"fold":["a","b"],"as":["k","xe"]}],"mark":{"type":"point","filled":true,"size":22,"color":"#111","opacity":1},"encoding":{"x":{"field":"xe","type":"quantitative","title":null},"y":{"field":"y","type":"quantitative","title":"SLVP (mmHg)"},"shape":{"field":"k","type":"nominal","scale":{"domain":["a","b"],"range":["triangle-left","triangle-right"]},"legend":null}}},
{"data":{"name":"drug"},"transform":[{"filter":"datum.p=='D'"}],"mark":{"type":"text","fontSize":9,"dy":-7,"color":"#222"},"encoding":{"x":{"field":"m","type":"quantitative","title":null},"y":{"field":"y","type":"quantitative","title":"SLVP (mmHg)"},"text":{"value":"Drug"}}}
]},
{"width":335,"height":160,"title":{"text":"E","anchor":"start","frame":"group","fontSize":14,"fontWeight":"bold","baseline":"alphabetic","dx":-36,"dy":35},
"layer":[
{"data":{"name":"d"},"transform":[{"filter":"datum.p=='E'"}],"mark":{"type":"line","strokeWidth":1.2},
"encoding":{"x":{"field":"i","type":"quantitative","title":null,"scale":{"domain":[0.5,12.5],"nice":false,"zero":false},"axis":{"values":[1,2,3,4,5,6,7,8,9,10,11,12],"tickCount":40,"labelExpr":"[\"C\",\"\",\"\",\"\",\"1'\",\"3'\",\"5'\",\"10'\",\"15'\",\"20'\",\"25'\",\"30'\"][datum.value-1]","ticks":false,"labelPadding":6}},
"y":{"field":"v","type":"quantitative","title":"DLVP (mmHg)","scale":{"domain":[0,10],"nice":false},"axis":{"values":[0,2,4,6,8,10],"tickCount":40,"format":"d"}},
"color":{"field":"s","type":"nominal","scale":{"domain":["Control","Glutamate","TG"],"range":["#333333","#555555","#111111"]},"legend":{"orient":"none","legendX":73,"legendY":180,"direction":"horizontal","title":null,"symbolType":"stroke","symbolSize":480,"symbolStrokeWidth":1.2,"columnPadding":14}},
"strokeDash":{"field":"s","type":"nominal","scale":{"domain":["Control","Glutamate","TG"],"range":[[1,0],[10,3,2,2,2,3],[3,2]]},"legend":{"orient":"none","legendX":73,"legendY":180,"direction":"horizontal","title":null,"symbolType":"stroke","symbolSize":480,"symbolStrokeWidth":1.2,"columnPadding":14}}}},
{"data":{"name":"d"},"transform":[{"filter":"datum.p=='E' && isValid(datum.lo)"}],"mark":{"type":"rule","color":"#111","strokeWidth":1.3},"encoding":{"x":{"field":"i","type":"quantitative","title":null},"y":{"field":"lo","type":"quantitative","title":"DLVP (mmHg)"},"y2":{"field":"hi"}}},
{"data":{"name":"d"},"transform":[{"filter":"datum.p=='E' && isValid(datum.lo)"},{"fold":["lo","hi"],"as":["k","e"]}],"mark":{"type":"tick","orient":"horizontal","color":"#111","size":8,"thickness":1.3},"encoding":{"x":{"field":"i","type":"quantitative","title":null},"y":{"field":"e","type":"quantitative","title":"DLVP (mmHg)"}}},
{"data":{"name":"ann"},"transform":[{"filter":"datum.p=='E'"}],"mark":{"type":"rule","color":"#444","strokeWidth":1.2},"encoding":{"x":{"field":"a","type":"quantitative","title":null},"x2":{"field":"b"},"y":{"field":"y","type":"quantitative","title":"DLVP (mmHg)"}}},
{"data":{"name":"dots"},"transform":[{"filter":"datum.p=='E'"}],"mark":{"type":"point","filled":true,"size":12,"color":"#222","opacity":1},"encoding":{"x":{"field":"x","type":"quantitative","title":null},"y":{"field":"y","type":"quantitative","title":"DLVP (mmHg)"}}},
{"data":{"name":"lab"},"transform":[{"filter":"datum.p=='E'"}],"mark":{"type":"text","fontSize":8.5,"dy":-6,"color":"#333"},"encoding":{"x":{"field":"x","type":"quantitative","title":null},"y":{"field":"y","type":"quantitative","title":"DLVP (mmHg)"},"text":{"field":"t"}}},
{"data":{"name":"drug"},"transform":[{"filter":"datum.p=='E'"}],"mark":{"type":"rule","color":"#111","strokeWidth":1.3},"encoding":{"x":{"field":"a","type":"quantitative","title":null},"x2":{"field":"b"},"y":{"field":"y","type":"quantitative","title":"DLVP (mmHg)"}}},
{"data":{"name":"drug"},"transform":[{"filter":"datum.p=='E'"},{"fold":["a","b"],"as":["k","xe"]}],"mark":{"type":"point","filled":true,"size":22,"color":"#111","opacity":1},"encoding":{"x":{"field":"xe","type":"quantitative","title":null},"y":{"field":"y","type":"quantitative","title":"DLVP (mmHg)"},"shape":{"field":"k","type":"nominal","scale":{"domain":["a","b"],"range":["triangle-left","triangle-right"]},"legend":null}}},
{"data":{"name":"drug"},"transform":[{"filter":"datum.p=='E'"}],"mark":{"type":"text","fontSize":9,"dy":-7,"color":"#222"},"encoding":{"x":{"field":"m","type":"quantitative","title":null},"y":{"field":"y","type":"quantitative","title":"DLVP (mmHg)"},"text":{"value":"Drug"}}}
]},
{"width":335,"height":160,"title":{"text":"F","anchor":"start","frame":"group","fontSize":14,"fontWeight":"bold","baseline":"alphabetic","dx":-36,"dy":35},
"layer":[
{"data":{"name":"d"},"transform":[{"filter":"datum.p=='F'"}],"mark":{"type":"line","strokeWidth":1.2},
"encoding":{"x":{"field":"i","type":"quantitative","title":null,"scale":{"domain":[0.5,12.5],"nice":false,"zero":false},"axis":{"values":[1,2,3,4,5,6,7,8,9,10,11,12],"tickCount":40,"labelExpr":"[\"C\",\"\",\"\",\"\",\"1'\",\"3'\",\"5'\",\"10'\",\"15'\",\"20'\",\"25'\",\"30'\"][datum.value-1]","ticks":false,"labelPadding":6}},
"y":{"field":"v","type":"quantitative","title":"DLVP (mmHg)","scale":{"domain":[0,10],"nice":false},"axis":{"values":[0,2,4,6,8,10],"tickCount":40,"format":"d"}},
"color":{"field":"s","type":"nominal","scale":{"domain":["Control","Memantine","MK-801"],"range":["#333333","#222222","#aaaaaa"]},"legend":{"orient":"none","legendX":62,"legendY":180,"direction":"horizontal","title":null,"symbolType":"stroke","symbolSize":480,"symbolStrokeWidth":1.2,"columnPadding":14}},
"strokeDash":{"field":"s","type":"nominal","scale":{"domain":["Control","Memantine","MK-801"],"range":[[1,0],[5,3],[1.5,1.5]]},"legend":{"orient":"none","legendX":62,"legendY":180,"direction":"horizontal","title":null,"symbolType":"stroke","symbolSize":480,"symbolStrokeWidth":1.2,"columnPadding":14}}}},
{"data":{"name":"d"},"transform":[{"filter":"datum.p=='F' && isValid(datum.lo)"}],"mark":{"type":"rule","color":"#111","strokeWidth":1.3},"encoding":{"x":{"field":"i","type":"quantitative","title":null},"y":{"field":"lo","type":"quantitative","title":"DLVP (mmHg)"},"y2":{"field":"hi"}}},
{"data":{"name":"d"},"transform":[{"filter":"datum.p=='F' && isValid(datum.lo)"},{"fold":["lo","hi"],"as":["k","e"]}],"mark":{"type":"tick","orient":"horizontal","color":"#111","size":8,"thickness":1.3},"encoding":{"x":{"field":"i","type":"quantitative","title":null},"y":{"field":"e","type":"quantitative","title":"DLVP (mmHg)"}}},
{"data":{"name":"ann"},"transform":[{"filter":"datum.p=='F'"}],"mark":{"type":"rule","color":"#444","strokeWidth":1.2},"encoding":{"x":{"field":"a","type":"quantitative","title":null},"x2":{"field":"b"},"y":{"field":"y","type":"quantitative","title":"DLVP (mmHg)"}}},
{"data":{"name":"dots"},"transform":[{"filter":"datum.p=='F'"}],"mark":{"type":"point","filled":true,"size":12,"color":"#222","opacity":1},"encoding":{"x":{"field":"x","type":"quantitative","title":null},"y":{"field":"y","type":"quantitative","title":"DLVP (mmHg)"}}},
{"data":{"name":"lab"},"transform":[{"filter":"datum.p=='F'"}],"mark":{"type":"text","fontSize":8.5,"dy":-6,"color":"#333"},"encoding":{"x":{"field":"x","type":"quantitative","title":null},"y":{"field":"y","type":"quantitative","title":"DLVP (mmHg)"},"text":{"field":"t"}}},
{"data":{"name":"drug"},"transform":[{"filter":"datum.p=='F'"}],"mark":{"type":"rule","color":"#111","strokeWidth":1.3},"encoding":{"x":{"field":"a","type":"quantitative","title":null},"x2":{"field":"b"},"y":{"field":"y","type":"quantitative","title":"DLVP (mmHg)"}}},
{"data":{"name":"drug"},"transform":[{"filter":"datum.p=='F'"},{"fold":["a","b"],"as":["k","xe"]}],"mark":{"type":"point","filled":true,"size":22,"color":"#111","opacity":1},"encoding":{"x":{"field":"xe","type":"quantitative","title":null},"y":{"field":"y","type":"quantitative","title":"DLVP (mmHg)"},"shape":{"field":"k","type":"nominal","scale":{"domain":["a","b"],"range":["triangle-left","triangle-right"]},"legend":null}}},
{"data":{"name":"drug"},"transform":[{"filter":"datum.p=='F'"}],"mark":{"type":"text","fontSize":9,"dy":-7,"color":"#222"},"encoding":{"x":{"field":"m","type":"quantitative","title":null},"y":{"field":"y","type":"quantitative","title":"DLVP (mmHg)"},"text":{"value":"Drug"}}}
]},
{"width":335,"height":155,"title":{"text":"G","anchor":"start","frame":"group","fontSize":14,"fontWeight":"bold","baseline":"alphabetic","dx":-36,"dy":35},
"layer":[
{"data":{"name":"d"},"transform":[{"filter":"datum.p=='G'"}],"mark":{"type":"line","strokeWidth":1.2},
"encoding":{"x":{"field":"i","type":"quantitative","title":null,"scale":{"domain":[0.5,11.5],"nice":false,"zero":false},"axis":{"values":[1,2,3,4,5,6,7,8,9,10,11],"tickCount":40,"labelExpr":"[\"C\",\"\",\"\",\"1'\",\"3'\",\"5'\",\"10'\",\"15'\",\"20'\",\"25'\",\"30'\"][datum.value-1]","ticks":false,"labelPadding":6}},
"y":{"field":"v","type":"quantitative","title":"DLVP (mmHg)","scale":{"domain":[0,10],"nice":false},"axis":{"values":[0,2,4,6,8,10],"tickCount":40,"format":"d"}},
"color":{"field":"s","type":"nominal","scale":{"domain":["Control","Glutamate","TG"],"range":["#333333","#555555","#111111"]},"legend":{"orient":"none","legendX":73,"legendY":175,"direction":"horizontal","title":null,"symbolType":"stroke","symbolSize":480,"symbolStrokeWidth":1.2,"columnPadding":14}},
"strokeDash":{"field":"s","type":"nominal","scale":{"domain":["Control","Glutamate","TG"],"range":[[1,0],[10,3,2,2,2,3],[3,2]]},"legend":{"orient":"none","legendX":73,"legendY":175,"direction":"horizontal","title":null,"symbolType":"stroke","symbolSize":480,"symbolStrokeWidth":1.2,"columnPadding":14}}}},
{"data":{"name":"d"},"transform":[{"filter":"datum.p=='G' && isValid(datum.lo)"}],"mark":{"type":"rule","color":"#111","strokeWidth":1.3},"encoding":{"x":{"field":"i","type":"quantitative","title":null},"y":{"field":"lo","type":"quantitative","title":"DLVP (mmHg)"},"y2":{"field":"hi"}}},
{"data":{"name":"d"},"transform":[{"filter":"datum.p=='G' && isValid(datum.lo)"},{"fold":["lo","hi"],"as":["k","e"]}],"mark":{"type":"tick","orient":"horizontal","color":"#111","size":8,"thickness":1.3},"encoding":{"x":{"field":"i","type":"quantitative","title":null},"y":{"field":"e","type":"quantitative","title":"DLVP (mmHg)"}}},
{"data":{"name":"ann"},"transform":[{"filter":"datum.p=='G'"}],"mark":{"type":"rule","color":"#444","strokeWidth":1.2},"encoding":{"x":{"field":"a","type":"quantitative","title":null},"x2":{"field":"b"},"y":{"field":"y","type":"quantitative","title":"DLVP (mmHg)"}}},
{"data":{"name":"dots"},"transform":[{"filter":"datum.p=='G'"}],"mark":{"type":"point","filled":true,"size":12,"color":"#222","opacity":1},"encoding":{"x":{"field":"x","type":"quantitative","title":null},"y":{"field":"y","type":"quantitative","title":"DLVP (mmHg)"}}},
{"data":{"name":"lab"},"transform":[{"filter":"datum.p=='G'"}],"mark":{"type":"text","fontSize":8.5,"dy":-6,"color":"#333"},"encoding":{"x":{"field":"x","type":"quantitative","title":null},"y":{"field":"y","type":"quantitative","title":"DLVP (mmHg)"},"text":{"field":"t"}}},
{"data":{"name":"drug"},"transform":[{"filter":"datum.p=='G'"}],"mark":{"type":"rule","color":"#111","strokeWidth":1.3},"encoding":{"x":{"field":"a","type":"quantitative","title":null},"x2":{"field":"b"},"y":{"field":"y","type":"quantitative","title":"DLVP (mmHg)"}}},
{"data":{"name":"drug"},"transform":[{"filter":"datum.p=='G'"},{"fold":["a","b"],"as":["k","xe"]}],"mark":{"type":"point","filled":true,"size":22,"color":"#111","opacity":1},"encoding":{"x":{"field":"xe","type":"quantitative","title":null},"y":{"field":"y","type":"quantitative","title":"DLVP (mmHg)"},"shape":{"field":"k","type":"nominal","scale":{"domain":["a","b"],"range":["triangle-left","triangle-right"]},"legend":null}}},
{"data":{"name":"drug"},"transform":[{"filter":"datum.p=='G'"}],"mark":{"type":"text","fontSize":9,"dy":-7,"color":"#222"},"encoding":{"x":{"field":"m","type":"quantitative","title":null},"y":{"field":"y","type":"quantitative","title":"DLVP (mmHg)"},"text":{"value":"Drug"}}}
]},
{"width":335,"height":155,"title":{"text":"H","anchor":"start","frame":"group","fontSize":14,"fontWeight":"bold","baseline":"alphabetic","dx":-36,"dy":35},
"layer":[
{"data":{"name":"d"},"transform":[{"filter":"datum.p=='H'"}],"mark":{"type":"line","strokeWidth":1.2},
"encoding":{"x":{"field":"i","type":"quantitative","title":null,"scale":{"domain":[0.5,11.5],"nice":false,"zero":false},"axis":{"values":[1,2,3,4,5,6,7,8,9,10,11],"tickCount":40,"labelExpr":"[\"C\",\"\",\"\",\"1'\",\"3'\",\"5'\",\"10'\",\"15'\",\"20'\",\"25'\",\"30'\"][datum.value-1]","ticks":false,"labelPadding":6}},
"y":{"field":"v","type":"quantitative","title":"DLVP (mmHg)","scale":{"domain":[0,10],"nice":false},"axis":{"values":[0,2,4,6,8,10],"tickCount":40,"format":"d"}},
"color":{"field":"s","type":"nominal","scale":{"domain":["Control","Memantine","MK-801"],"range":["#333333","#222222","#aaaaaa"]},"legend":{"orient":"none","legendX":62,"legendY":175,"direction":"horizontal","title":null,"symbolType":"stroke","symbolSize":480,"symbolStrokeWidth":1.2,"columnPadding":14}},
"strokeDash":{"field":"s","type":"nominal","scale":{"domain":["Control","Memantine","MK-801"],"range":[[1,0],[5,3],[1.5,1.5]]},"legend":{"orient":"none","legendX":62,"legendY":175,"direction":"horizontal","title":null,"symbolType":"stroke","symbolSize":480,"symbolStrokeWidth":1.2,"columnPadding":14}}}},
{"data":{"name":"d"},"transform":[{"filter":"datum.p=='H' && isValid(datum.lo)"}],"mark":{"type":"rule","color":"#111","strokeWidth":1.3},"encoding":{"x":{"field":"i","type":"quantitative","title":null},"y":{"field":"lo","type":"quantitative","title":"DLVP (mmHg)"},"y2":{"field":"hi"}}},
{"data":{"name":"d"},"transform":[{"filter":"datum.p=='H' && isValid(datum.lo)"},{"fold":["lo","hi"],"as":["k","e"]}],"mark":{"type":"tick","orient":"horizontal","color":"#111","size":8,"thickness":1.3},"encoding":{"x":{"field":"i","type":"quantitative","title":null},"y":{"field":"e","type":"quantitative","title":"DLVP (mmHg)"}}},
{"data":{"name":"drug"},"transform":[{"filter":"datum.p=='H'"}],"mark":{"type":"rule","color":"#111","strokeWidth":1.3},"encoding":{"x":{"field":"a","type":"quantitative","title":null},"x2":{"field":"b"},"y":{"field":"y","type":"quantitative","title":"DLVP (mmHg)"}}},
{"data":{"name":"drug"},"transform":[{"filter":"datum.p=='H'"},{"fold":["a","b"],"as":["k","xe"]}],"mark":{"type":"point","filled":true,"size":22,"color":"#111","opacity":1},"encoding":{"x":{"field":"xe","type":"quantitative","title":null},"y":{"field":"y","type":"quantitative","title":"DLVP (mmHg)"},"shape":{"field":"k","type":"nominal","scale":{"domain":["a","b"],"range":["triangle-left","triangle-right"]},"legend":null}}},
{"data":{"name":"drug"},"transform":[{"filter":"datum.p=='H'"}],"mark":{"type":"text","fontSize":9,"dy":-7,"color":"#222"},"encoding":{"x":{"field":"m","type":"quantitative","title":null},"y":{"field":"y","type":"quantitative","title":"DLVP (mmHg)"},"text":{"value":"Drug"}}}
]}
]
}
